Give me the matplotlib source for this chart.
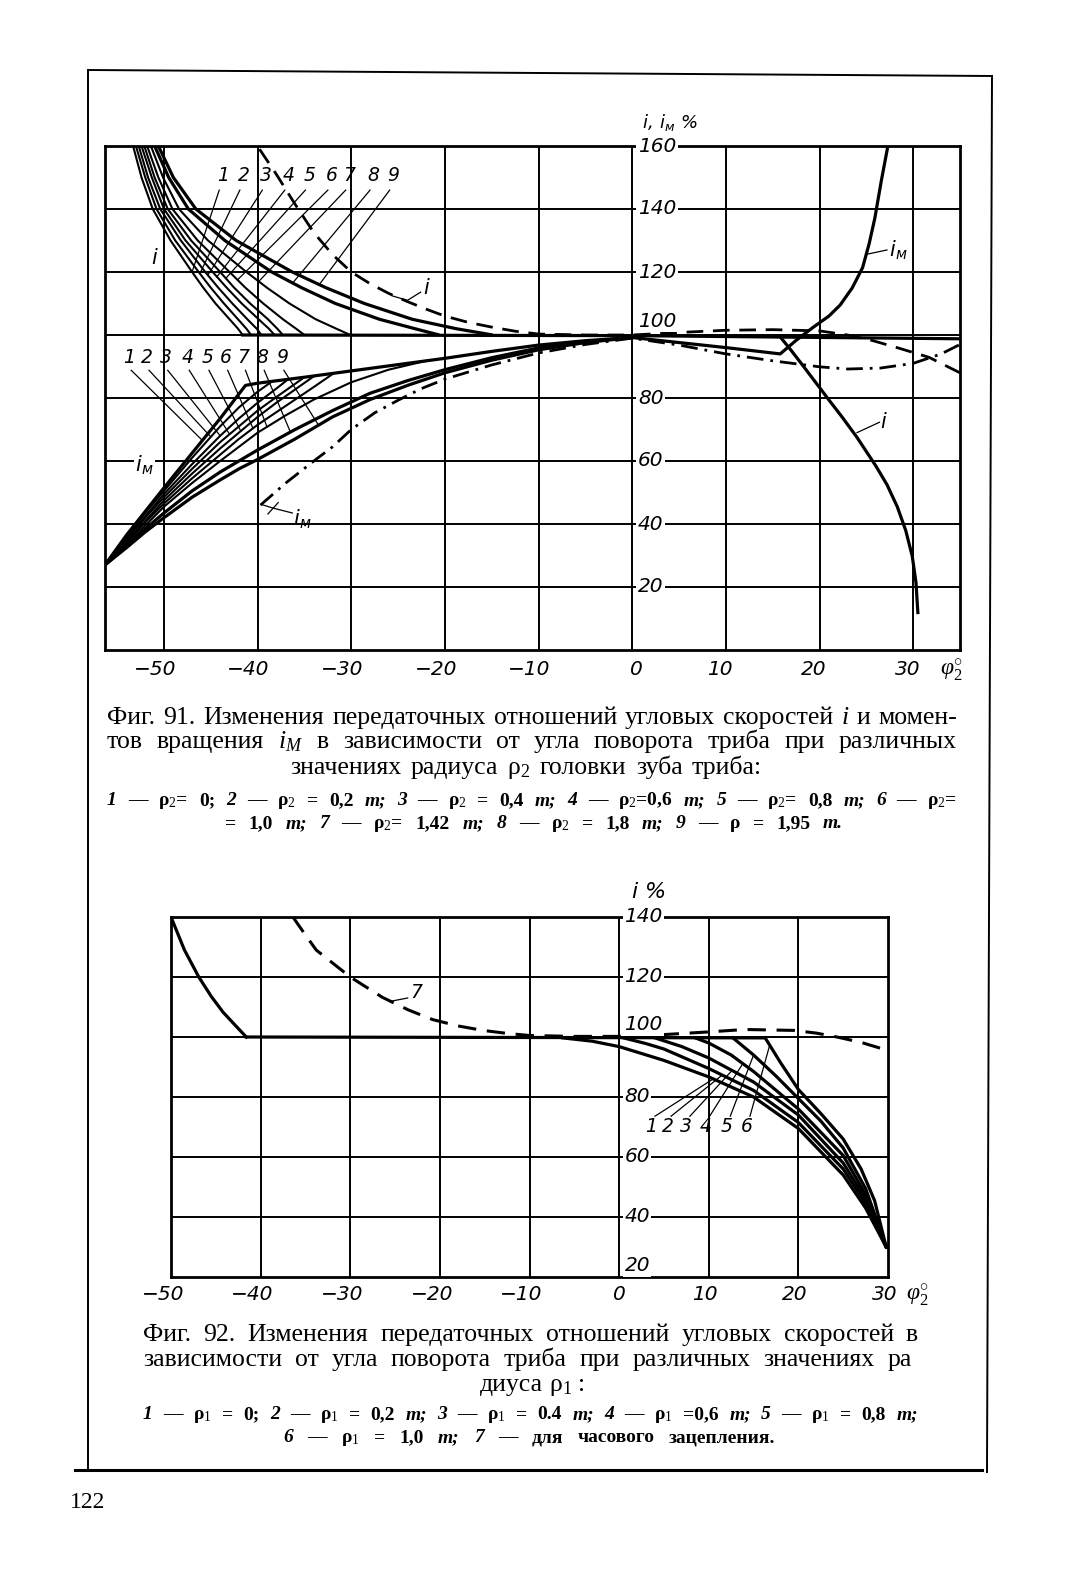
import numpy as np
import matplotlib
matplotlib.use("Agg")
import matplotlib.pyplot as plt

plt.rcParams['mathtext.fontset'] = 'custom'
plt.rcParams['mathtext.rm'] = 'Liberation Serif'
plt.rcParams['mathtext.it'] = 'Liberation Serif:italic'
plt.rcParams['mathtext.bf'] = 'Liberation Serif:bold'
plt.rcParams['mathtext.sf'] = 'DejaVu Sans:italic'
plt.rcParams['font.family'] = ['DejaVu Sans']

# ======================= DATA: Fig. 91 =======================
f91_xgrid = [-50, -40, -30, -20, -10, 0, 10, 20, 30]
f91_ygrid = [20, 40, 60, 80, 100, 120, 140]
f91_xticks = [-50, -40, -30, -20, -10, 0, 10, 20, 30]
f91_yticks = [160, 140, 120, 100, 80, 60, 40, 20]

# family of i curves (x read at fixed i levels)
i_levels = [160, 150, 140, 130, 120, 115, 110, 105, 102, 100]
i_family_x = [
    [-53.3, -52.4, -51.2, -49.3, -47.0, -45.8, -44.5, -43.0, -42.1, -41.6],
    [-53.0, -52.0, -50.8, -48.8, -46.3, -45.0, -43.6, -42.1, -41.2, -40.7],
    [-52.7, -51.7, -50.4, -48.2, -45.6, -44.2, -42.7, -41.1, -40.1, -39.6],
    [-52.4, -51.3, -50.0, -47.7, -44.8, -43.3, -41.7, -39.9, -38.8, -38.2],
    [-52.1, -51.0, -49.6, -47.1, -44.0, -42.5, -40.8, -38.9, -37.9, -37.3],
    [-51.8, -50.6, -49.1, -46.4, -43.0, -41.3, -39.4, -37.3, -35.9, -35.0],
    [-51.4, -50.1, -48.4, -45.3, -41.2, -39.0, -36.6, -33.8, -31.6, -30.1],
    [-51.0, -49.5, -47.4, -43.5, -38.5, -35.3, -31.7, -27.0, -23.2, -20.6],
    [-50.6, -49.0, -46.6, -42.3, -36.3, -32.7, -28.6, -23.5, -18.8, -14.9],
]
i_base_x = [-41.6, 0, 35.0]
i_base_y = [100, 99.8, 98.8]

# family of iM curves
im_family = [
    ([-56.3, -54, -52, -50, -47, -44, -41.3, -40, -35, -30, -25, -20, -15, -10, -5, 0],
     [27, 36.5, 44, 51.5, 62.5, 73.5, 84, 84.7, 86.6, 88.6, 90.6, 92.6, 94.8, 96.8, 98.2, 99.2]),
    ([-56.3, -54, -52, -50, -47, -44, -42, -40, -38.5],
     [27, 36, 43.5, 50.5, 61, 71, 77, 82, 85.2]),
    ([-56.3, -54, -52, -50, -47, -44, -42, -40, -38, -36.8],
     [27, 35.5, 42.5, 49.5, 59, 68, 73.5, 78.5, 83, 85.8]),
    ([-56.3, -54, -52, -50, -47, -44, -42, -40, -38, -36, -35.2],
     [27, 35, 42, 48.5, 57.5, 66, 71, 76, 80.3, 84.5, 86.2]),
    ([-56.3, -54, -52, -50, -47, -44, -42, -40, -38, -36, -34],
     [27, 34.5, 41, 47.5, 56, 64, 69, 74, 78.5, 82.7, 86.9]),
    ([-56.3, -54, -52, -50, -47, -44, -42, -40, -38, -36, -34, -32],
     [27, 34, 40.5, 46.5, 54.5, 62, 67, 71.5, 75.5, 79.5, 83.5, 87.6]),
    ([-56.3, -54, -52, -50, -47, -44, -42, -40, -37, -34, -30, -26, -22],
     [27, 33.5, 39.5, 45.5, 53, 60, 64.5, 69, 74.5, 79.5, 85, 89, 91.8]),
    ([-56.3, -54, -52, -50, -47, -44, -42, -40, -36, -32, -28, -24, -20, -15, -10, -5, 0],
     [27, 33, 38.5, 43.5, 50.5, 56.5, 60, 63.5, 70, 76, 81.5, 85.5, 89, 92.8, 95.9, 97.9, 99.2]),
    ([-56.3, -54, -52, -50, -47, -44, -42, -40, -36, -32, -28, -24, -20, -15, -10, -5, 0],
     [27, 32.5, 37.5, 42, 48.5, 54, 57.5, 60.5, 67, 74, 79.5, 84, 88, 92, 95.3, 97.6, 99.2]),
]

# dashed i curve
i_dash_x = [-39.8, -38, -36, -34, -32, -30, -28, -26, -24, -22, -20, -17.5, -15, -12.5, -10,
            -5, 0, 5, 10, 15, 20, 23, 25.7, 28.5, 31.7, 35.0]
i_dash_y = [159, 151, 141.5, 132.5, 125.5, 120, 116.3, 113.2, 110.6, 108.2, 106, 104, 102.5, 101.2, 100.3,
            100, 100, 100.8, 101.5, 101.7, 101.3, 100, 98.2, 95.8, 92.9, 88]
# dash-dot iM curve
im_dd_x = [-39.7, -37, -34, -32, -30, -27.5, -25, -22.5, -20, -15, -10, -5, 0,
           5, 10, 15, 20, 23, 26.5, 30, 33, 35.0]
im_dd_y = [46, 53, 60, 64.5, 70, 75.3, 79.3, 83, 86, 90.5, 94.3, 97, 99,
           96.8, 94, 91.8, 89.9, 89.2, 89.5, 91, 94, 97]
# right-hand solid iM and i
im_right_x = [0, 5, 10, 15.8, 17.5, 19.3, 21, 22.2, 23.5, 24.6, 25.3, 25.9, 26.6, 27.3]
im_right_y = [99.2, 97.6, 96, 94, 98.3, 102.4, 106, 109.5, 115, 121.4, 129, 137, 149, 160]
i_right_x = [15.8, 17, 18.3, 19.7, 21.1, 22.4, 24, 26, 27.2, 28.3, 29.2, 29.9, 30.3, 30.5]
i_right_y = [99.4, 95, 90, 84.5, 79, 74, 67.5, 58.5, 52.5, 45.5, 38, 29.8, 21.4, 11.9]

f91_upper_labels = ['1', '2', '3', '4', '5', '6', '7', '8', '9']
f91_lower_labels = ['1', '2', '3', '4', '5', '6', '7', '8', '9']

# ======================= DATA: Fig. 92 =======================
f92_xgrid = [-40, -30, -20, -10, 0, 10, 20]
f92_ygrid = [40, 60, 80, 100, 120]
f92_xticks = [-50, -40, -30, -20, -10, 0, 10, 20, 30]
f92_yticks = [140, 120, 100, 80, 60, 40, 20]

f92_left_x = [-50, -48.5, -46.9, -45.5, -44.2, -42.8, -41.6]
f92_left_y = [140, 129, 120, 113.5, 108.3, 103.8, 100]
f92_base_x = [-41.6, 16.3]
f92_base_y = [100, 99.7]
f92_curves = [
    ([-6.3, -3, 0, 5, 10, 15, 20, 25, 27.5, 29.8], [99.7, 98.6, 96.8, 92.2, 86.7, 80, 69.5, 54, 43, 30]),
    ([0.5, 3, 5, 10, 15, 20, 25, 27.5, 29.8], [99.7, 97.8, 96, 89.5, 82.2, 71.5, 56, 44.5, 30]),
    ([4, 7, 10, 15, 20, 25, 27.5, 29.8], [99.7, 96.8, 93, 85, 74, 58, 46, 30]),
    ([8.5, 10, 12.5, 15, 20, 25, 27.5, 29.8], [99.7, 98, 94, 88.5, 76, 60.5, 47.5, 30]),
    ([12.7, 15, 17.5, 20, 22.5, 25, 27.5, 29.8], [99.7, 94, 87, 79.5, 72, 63, 49.5, 30]),
    ([16.3, 18, 20, 22.5, 25, 27, 28.5, 29.8], [99.7, 91.5, 82.5, 74.5, 66, 56, 45.5, 30]),
]
f92_dash_x = [-36.4, -35, -33.8, -30, -26.4, -23.5, -20.8, -18, -15.2, -12.5, -10, -5, 0,
              5, 10, 14, 19.5, 22, 24.3, 27, 30]
f92_dash_y = [140, 134, 129, 120, 113.2, 109, 105.8, 103.7, 102.2, 101.2, 100.5, 100.2, 100.2,
              100.8, 101.7, 102.5, 102.2, 101.3, 100, 98.2, 95.5]
f92_labels = ['1', '2', '3', '4', '5', '6']

# ======================= FIGURE =======================
W, H = 1075, 1577
fig = plt.figure(figsize=(W / 100, H / 100), dpi=100)
fig.patch.set_facecolor('white')

page = fig.add_axes([0, 0, 1, 1])
page.set_xlim(0, W)
page.set_ylim(H, 0)
page.axis('off')

K = 'black'
GRID_LW = 1.4
THIN = 1.5
THICK = 2.3
LEAD = 0.9
tick_font = dict(fontsize=14.5, style='oblique', color=K)
lab_font = dict(fontsize=13.5, style='oblique', color=K)
wbox = dict(fc='white', ec='none', pad=1.0)


def make_axes(px_left, px_top, px_right, px_bottom, xlim, ylim, xgrid, ygrid):
    ax = fig.add_axes([px_left / W, 1 - px_bottom / H, (px_right - px_left) / W,
                       (px_bottom - px_top) / H])
    ax.set_xlim(*xlim)
    ax.set_ylim(*ylim)
    ax.set_xticks([])
    ax.set_yticks([])
    for s in ax.spines.values():
        s.set_linewidth(2.0)
        s.set_color(K)
        s.set_zorder(2)
    for gx in xgrid:
        ax.axvline(gx, color=K, lw=GRID_LW, zorder=1)
    for gy in ygrid:
        ax.axhline(gy, color=K, lw=GRID_LW, zorder=1)
    return ax


# ---------------- Fig. 91 ----------------
ax1 = make_axes(105, 146, 960, 650, (-56.3, 35.0), (0, 160), f91_xgrid, f91_ygrid)

for k, xs in enumerate(i_family_x):
    ax1.plot(xs, i_levels, color=K, lw=THICK if k >= 7 else THIN, zorder=3,
             solid_capstyle='butt')
ax1.plot(i_base_x, i_base_y, color=K, lw=THICK, zorder=3)
for k, (xs, ys) in enumerate(im_family):
    ax1.plot(xs, ys, color=K, lw=THICK if k in (0, 7, 8) else THIN, zorder=3)
ax1.plot(i_dash_x, i_dash_y, color=K, lw=2.0, ls=(0, (6, 3.5)), zorder=3)
ax1.plot(im_dd_x, im_dd_y, color=K, lw=2.0, ls=(0, (6, 2.5, 1, 2.5)), zorder=3)
ax1.plot(im_right_x, im_right_y, color=K, lw=THICK, zorder=3)
ax1.plot(i_right_x, i_right_y, color=K, lw=THICK, zorder=3)

# y tick labels along the zero line
for v in f91_yticks:
    yy = v + 4.3 if v == 100 else v
    ax1.text(0.6, yy, str(v), ha='left', va='center', bbox=wbox, zorder=4, **tick_font)
ax1.text(1.0, 167.5, r'$\mathsf{i,\ i_м}$ %', ha='left', va='center', clip_on=False,
         fontsize=13, style='oblique')
# x tick labels
for v in f91_xticks:
    off = -1.0 if v < 0 else (0.4 if v == 0 else -0.6)
    ax1.text(v + off, -6.3, str(v).replace('-', '−'), ha='center', va='center',
             clip_on=False, **tick_font)
ax1.text(32.9, -6.8, r'$\varphi_2^{\circ}$', ha='left', va='center', clip_on=False,
         fontsize=17)

# labels of the i family with leaders
up_lx = [-43.7, -41.5, -39.1, -36.7, -34.5, -32.1, -30.2, -27.6, -25.5]
for k, (txt, lx) in enumerate(zip(f91_upper_labels, up_lx)):
    ax1.text(lx, 150.5, txt, ha='center', va='center', zorder=4, **lab_font)
    ty = 120 - 0.5 * k
    tx = np.interp(ty, i_levels[::-1], i_family_x[k][::-1])
    ax1.plot([lx - 0.4, tx], [146.0, ty], color=K, lw=LEAD, zorder=3)

# labels of the iM family with leaders
lo_lx = [-53.7, -51.8, -49.8, -47.5, -45.4, -43.4, -41.5, -39.5, -37.4]
lo_tx = [-45.9, -45.0, -44.0, -43.0, -41.8, -40.5, -39.0, -36.5, -33.5]
for k, (txt, lx) in enumerate(zip(f91_lower_labels, lo_lx)):
    ax1.text(lx, 92.8, txt, ha='center', va='center', zorder=4, **lab_font)
    xs, ys = im_family[k]
    tx = lo_tx[k]
    ty = np.interp(tx, xs, ys)
    ax1.plot([lx + 0.2, tx], [88.8, ty], color=K, lw=LEAD, zorder=3)

# curve names
ax1.text(-51.0, 124.5, r'$\mathsf{i}$', ha='center', va='center', fontsize=15, zorder=4)
ax1.text(-52.1, 58.6, r'$\mathsf{i_м}$', ha='center', va='center', fontsize=15,
         bbox=wbox, zorder=4)
ax1.text(-36.2, 41.5, r'$\mathsf{i_м}$', ha='left', va='center', fontsize=15, zorder=4)
ax1.plot([-36.3, -38.3, -39.6], [43.5, 45.0, 46.2], color=K, lw=LEAD, zorder=3)
ax1.plot([-38.9, -37.8], [43.2, 46.8], color=K, lw=LEAD, zorder=3)
ax1.text(-22.3, 115.0, r'$\mathsf{i}$', ha='left', va='center', fontsize=15, zorder=4)
ax1.plot([-22.6, -24.0, -25.6], [113.6, 111.0, 112.4], color=K, lw=LEAD, zorder=3)
ax1.text(27.4, 126.8, r'$\mathsf{i_м}$', ha='left', va='center', fontsize=15, zorder=4)
ax1.plot([27.2, 25.0], [127.0, 125.6], color=K, lw=LEAD, zorder=3)
ax1.text(26.5, 72.5, r'$\mathsf{i}$', ha='left', va='center', fontsize=15, zorder=4)
ax1.plot([26.4, 24.0], [72.3, 69.0], color=K, lw=LEAD, zorder=3)

# ---------------- Fig. 92 ----------------
ax2 = make_axes(171, 917, 888, 1277, (-50, 30), (20, 140), f92_xgrid, f92_ygrid)
ax2.plot(f92_left_x, f92_left_y, color=K, lw=THICK, zorder=3)
ax2.plot(f92_base_x, f92_base_y, color=K, lw=THICK, zorder=3)
for xs, ys in f92_curves:
    ax2.plot(xs, ys, color=K, lw=THICK, zorder=3)
ax2.plot(f92_dash_x, f92_dash_y, color=K, lw=2.2, ls=(0, (6, 3.5)), zorder=3)

for v in f92_yticks:
    yy = v + 4.0 if v == 100 else (23.8 if v == 20 else v)
    ax2.text(0.6, yy, str(v), ha='left', va='center', bbox=wbox, zorder=4, **tick_font)
ax2.text(1.3, 148.5, r'$\mathsf{i}$ %', ha='left', va='center', clip_on=False,
         fontsize=16, style='oblique')
for v in f92_xticks:
    off = -0.9 if v < 0 else (0.0 if v == 0 else -0.4)
    ax2.text(v + off, 14.3, str(v).replace('-', '−'), ha='center', va='center',
             clip_on=False, **tick_font)
ax2.text(32.0, 13.8, r'$\varphi_2^{\circ}$', ha='left', va='center', clip_on=False,
         fontsize=17)

ax2.text(-22.6, 115.0, '7', ha='center', va='center', zorder=4, **lab_font)
ax2.plot([-23.6, -25.5], [113.0, 111.9], color=K, lw=LEAD, zorder=3)

f92_lx = [3.6, 5.4, 7.5, 9.7, 12.0, 14.2]
f92_tx = [10.5, 11.5, 12.6, 13.8, 15.0, 16.8]
for k, (txt, lx) in enumerate(zip(f92_labels, f92_lx)):
    ax2.text(lx, 70.0, txt, ha='center', va='center', zorder=4, **lab_font)
    xs, ys = f92_curves[k]
    tx = f92_tx[k]
    ty = np.interp(tx, xs, ys)
    ax2.plot([lx + 0.4, tx], [73.6, ty], color=K, lw=LEAD, zorder=3)

# ---------------- page frame, captions ----------------
page.plot([88, 992], [70, 76], color=K, lw=1.4)
page.plot([88, 88], [70, 1468], color=K, lw=1.4)
page.plot([992, 987], [76, 1472], color=K, lw=1.4)
page.plot([75, 982], [1470, 1470], color=K, lw=2.2)

renderer = fig.canvas.get_renderer()
SERIF = 'Liberation Serif'


def justify(words, x0, x1, y, size, weight='normal', gap=None):
    texts = []
    for w in words:
        st = 'normal'
        if w.startswith('*'):
            w = w[1:]
            st = 'italic'
        texts.append(page.text(0, y, w, ha='left', va='baseline', fontsize=size,
                               family=SERIF, weight=weight, style=st, color=K))
    widths = [t.get_window_extent(renderer).width for t in texts]
    if gap is None:
        gap = (x1 - x0 - sum(widths)) / max(len(words) - 1, 1)
    x = x0
    for t, wd in zip(texts, widths):
        t.set_x(x)
        x += wd + gap


CAP = 18.5
LEG = 14
justify("Фиг. 91. Изменения передаточных отношений угловых скоростей *i и момен-".split(),
        107, 957, 724, CAP)
justify("тов вращения $i_М$ в зависимости от угла поворота триба при различных".split(),
        107, 957, 748, CAP)
justify("значениях радиуса ρ$_2$ головки зуба триба:".split(), 290, 762, 774, CAP)
justify(["*1", "—", "ρ$_2$=", "0;", "*2", "—", "ρ$_2$", "=", "0,2", "*m;", "*3", "—", "ρ$_2$",
         "=", "0,4", "*m;", "*4", "—", "ρ$_2$=0,6", "*m;", "*5", "—", "ρ$_2$=", "0,8", "*m;",
         "*6", "—", "ρ$_2$="], 107, 957, 805, LEG, 'bold')
justify(["=", "1,0", "*m;", "*7", "—", "ρ$_2$=", "1,42", "*m;", "*8", "—", "ρ$_2$", "=", "1,8",
         "*m;", "*9", "—", "ρ", "=", "1,95", "*m."], 225, 843, 828, LEG, 'bold')

justify("Фиг. 92. Изменения передаточных отношений угловых скоростей в".split(),
        143, 918, 1341, CAP)
justify("зависимости от угла поворота триба при различных значениях ра".split(),
        143, 912, 1366, CAP)
justify(["диуса", "ρ$_1$", ":"], 480, 612, 1391, CAP, gap=6)
justify(["*1", "—", "ρ$_1$", "=", "0;", "*2", "—", "ρ$_1$", "=", "0,2", "*m;", "*3", "—",
         "ρ$_1$", "=", "0.4", "*m;", "*4", "—", "ρ$_1$", "=0,6", "*m;", "*5", "—", "ρ$_1$",
         "=", "0,8", "*m;"], 143, 918, 1419, LEG, 'bold')
justify(["*6", "—", "ρ$_1$", "=", "1,0", "*m;", "*7", "—", "для", "часового", "зацепления."],
        283, 775, 1442, LEG, 'bold')

page.text(70, 1508, "122", ha='left', va='baseline', fontsize=17, family=SERIF, color=K)

fig.savefig('out.png', dpi=100, facecolor='white')
